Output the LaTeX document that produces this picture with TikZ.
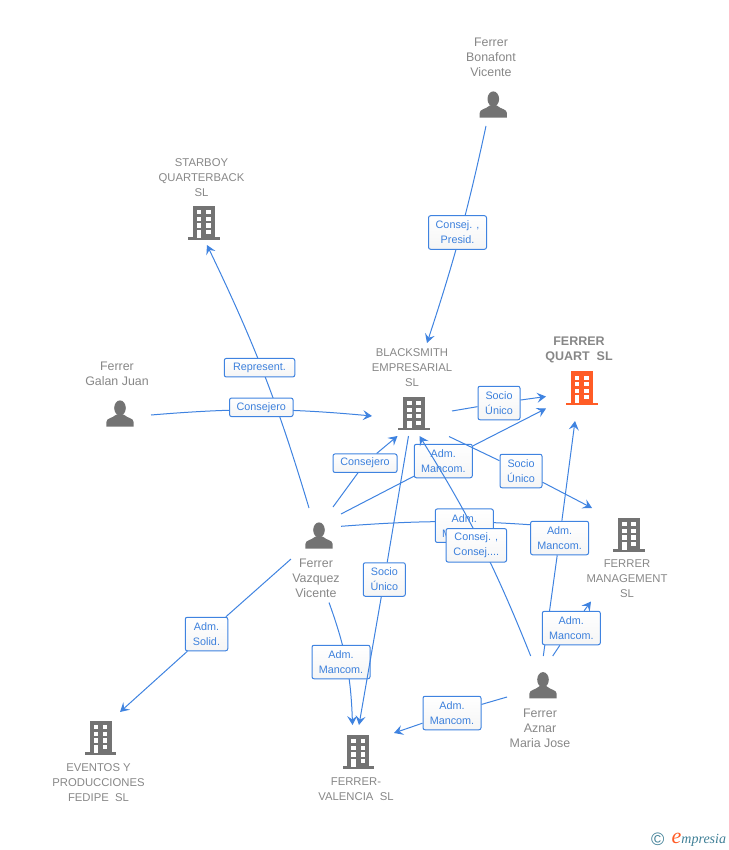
\documentclass[tikz,border=0pt]{standalone}
\usepackage{fontspec}
\setmainfont{Liberation Sans}
\newfontfamily\logofont{Liberation Serif}
\usetikzlibrary{arrows.meta}
\definecolor{edgeblue}{HTML}{3F83E0}
\definecolor{labelblue}{HTML}{3C80DC}
\definecolor{icongray}{HTML}{737373}
\definecolor{namegray}{HTML}{878787}
\definecolor{quartorange}{HTML}{FF5C26}
\definecolor{logoteal}{HTML}{3F7F96}
\tikzset{
	link/.style={edgeblue, line width=1pt},
	arrowlink/.style={link, -{Stealth[length=9pt, width=10pt, inset=3.5pt]}},
	linklabel/.style={draw=edgeblue, line width=1pt, rounded corners=2pt, top color=white, bottom color=black!4,
			text=labelblue, align=center, inner sep=0pt, minimum height=33.5pt,
			font=\fontsize{10.8}{15}\selectfont},
	shortlabel/.style={linklabel, minimum height=18.5pt},
	mancom/.style={linklabel, minimum width=58pt},
	socio/.style={linklabel, minimum width=42pt},
	firmname/.style={namegray, align=center, inner sep=0pt, font=\fontsize{11.3}{15}\selectfont},
	personname/.style={namegray, align=center, inner sep=0pt, font=\fontsize{12.4}{15}\selectfont},
	buildingicon/.pic={
			\fill[pic actions] (-11,0) rectangle (11,31.6);
			\fill[pic actions] (-15.8,31.4) rectangle (15.8,33.6);
			\foreach \row in {4.2,10.8,17.4}
			\foreach \col in {-7,2.2}
			\fill[white] (\col,\row) rectangle +(4.6,4.1);
			\fill[white] (-7,24) rectangle (-2.4,31.6);
			\fill[white] (2.2,24) rectangle (6.8,28);
		},
	personicon/.pic={
			\fill[pic actions] (0,8) ellipse [x radius=5.8, y radius=7.6];
			\fill[pic actions] (-13.6,26.7) -- (-13.6,22) .. controls (-13.6,18) and (-8,18.5) .. (-3.5,14.5)
			-- (3.5,14.5) .. controls (8,18.5) and (13.6,18) .. (13.6,22) -- (13.6,26.7) -- cycle;
		}
}
\begin{document}
\begin{tikzpicture}[x=1pt, y=-1pt]
	\useasboundingbox (0,0) rectangle (728,850);

	% firms
	\pic[fill=icongray] (starboy) at (203.7,206) {buildingicon};
	\pic[fill=icongray] (blacksmith) at (414,396.7) {buildingicon};
	\pic[fill=quartorange] (quart) at (581.7,371.3) {buildingicon};
	\pic[fill=icongray] (management) at (629,518) {buildingicon};
	\pic[fill=icongray] (eventos) at (100.5,721) {buildingicon};
	\pic[fill=icongray] (valencia) at (358.3,735) {buildingicon};
	\node[firmname] (starboyname) at (201.5,177.7) {STARBOY\\QUARTERBACK\\SL};
	\node[firmname] (blacksmithname) at (412,367.7) {BLACKSMITH\\EMPRESARIAL\\SL};
	\node[firmname, font=\fontsize{12.5}{15}\selectfont\bfseries] (quartname) at (579,350) {FERRER\\QUART\ \ SL};
	\node[firmname] (managementname) at (627,578.7) {FERRER\\MANAGEMENT\\SL};
	\node[firmname] (eventosname) at (98.5,782.7) {EVENTOS Y\\PRODUCCIONES\\FEDIPE\ \ SL};
	\node[firmname] (valencianame) at (356,789) {FERRER-\\VALENCIA\ \ SL};

	% people
	\pic[fill=icongray] (bonafont) at (493.3,91) {personicon};
	\pic[fill=icongray] (galan) at (120,400) {personicon};
	\pic[fill=icongray] (vazquez) at (319,522) {personicon};
	\pic[fill=icongray] (aznar) at (543,671.7) {personicon};
	\node[personname] (bonafontname) at (491,57) {Ferrer\\Bonafont\\Vicente};
	\node[personname] (galanname) at (117,373.5) {Ferrer\\Galan Juan};
	\node[personname] (vazquezname) at (316,578) {Ferrer\\Vazquez\\Vicente};
	\node[personname] (aznarname) at (540,728) {Ferrer\\Aznar\\Maria Jose};

	% free ends of the links
	\coordinate (bonafontout) at (486,126);
	\coordinate (galanout) at (151,415);
	\coordinate (vazquezup) at (309,508);
	\coordinate (vazquezconsej) at (333,507);
	\coordinate (vazquezquart) at (341,514);
	\coordinate (vazquezright) at (341,526.3);
	\coordinate (vazquezleft) at (291,559);
	\coordinate (vazquezdown) at (329,602.5);
	\coordinate (blacksmithright) at (452,411);
	\coordinate (blacksmithlow) at (449,436.5);
	\coordinate (blacksmithdown) at (408.5,436);
	\coordinate (aznarup) at (530.7,656);
	\coordinate (aznarquart) at (543.3,656);
	\coordinate (aznarmanag) at (552.7,656);
	\coordinate (aznarleft) at (507,697);
	\coordinate (starboyin) at (207,245);
	\coordinate (blacksmithtop) at (427,343);
	\coordinate (blacksmithleft) at (372,416);
	\coordinate (blacksmithcorner) at (397.5,436);
	\coordinate (blacksmithfoot) at (419.5,436);
	\coordinate (quartupper) at (546,396.5);
	\coordinate (quartlower) at (546,408.5);
	\coordinate (quartfoot) at (575,421);
	\coordinate (managementtop) at (592,508);
	\coordinate (managementhidden) at (560,527);
	\coordinate (managementlow) at (591,601.5);
	\coordinate (valencialeft) at (352.5,725);
	\coordinate (valenciaright) at (359,725);
	\coordinate (valenciaside) at (394,733);
	\coordinate (eventosin) at (120,712);

	% links with their boxes, later boxes cover earlier lines
	\draw[arrowlink] (bonafontout) to[bend left=3] (blacksmithtop);
	\node[mancom] (lblpresid) at (457.5,232.5) {Consej. ,\\Presid.};

	\draw[arrowlink] (vazquezup) to[bend right=4.5] (starboyin);
	\node[shortlabel, minimum width=70.5pt] (lblrepresent) at (259.5,367.7) {Represent.};

	\draw[arrowlink] (galanout) to[bend left=5] (blacksmithleft);
	\node[shortlabel, minimum width=63.5pt] (lblgalan) at (261.3,407.3) {Consejero};

	\node[shortlabel, minimum width=64pt] (lblconsejero) at (365,463.2) {Consejero};
	\draw[link] (vazquezconsej) -- (lblconsejero);
	\draw[arrowlink] (lblconsejero) -- (blacksmithcorner);

	\node[mancom] (lblquart) at (443.3,461) {Adm.\\Mancom.};
	\draw[link] (vazquezquart) -- (lblquart);
	\draw[arrowlink] (lblquart) -- (quartlower);

	\node[socio] (lblsocioquart) at (499,403) {Socio\\Único};
	\draw[link] (blacksmithright) -- (lblsocioquart);
	\draw[arrowlink] (lblsocioquart) -- (quartupper);

	\node[socio] (lblsociomanag) at (521,471) {Socio\\Único};
	\draw[link] (blacksmithlow) -- (lblsociomanag);
	\draw[arrowlink] (lblsociomanag) -- (managementtop);

	\draw[link] (vazquezright) to[bend left=4.5] (managementhidden);
	\node[mancom] (lblmanag) at (464.3,525.7) {Adm.\\Mancom.};

	\draw[arrowlink] (aznarup) to[bend right=5] (blacksmithfoot);
	\node[linklabel, minimum width=60.5pt] (lblconsej) at (476.3,545.3) {Consej. ,\\Consej....};

	\node[mancom] (lblaznarquart) at (559.6,538) {Adm.\\Mancom.};
	\draw[link] (aznarquart) -- (lblaznarquart);
	\draw[arrowlink] (lblaznarquart) -- (quartfoot);

	\node[mancom] (lblaznarmanag) at (571.3,628) {Adm.\\Mancom.};
	\draw[link] (aznarmanag) -- (lblaznarmanag);
	\draw[arrowlink] (lblaznarmanag) -- (managementlow);

	\draw[arrowlink] (vazquezdown) to[bend left=9] (valencialeft);
	\node[mancom] (lblvalencia) at (341,662) {Adm.\\Mancom.};

	\node[socio] (lblsociovalencia) at (384.3,579.5) {Socio\\Único};
	\draw[link] (blacksmithdown) -- (lblsociovalencia);
	\draw[arrowlink] (lblsociovalencia) -- (valenciaright);

	\node[mancom] (lblaznarvalencia) at (452,713) {Adm.\\Mancom.};
	\draw[link] (aznarleft) -- (lblaznarvalencia);
	\draw[arrowlink] (lblaznarvalencia) -- (valenciaside);

	\node[socio, minimum width=42.5pt] (lblsolid) at (206.5,634) {Adm.\\Solid.};
	\draw[link] (vazquezleft) -- (lblsolid);
	\draw[arrowlink] (lblsolid) -- (eventosin);

	% logo
	\node[inner sep=0pt, logoteal, font=\fontsize{18}{18}\selectfont] (logocopy) at (657.8,839.5) {©};
	\node[inner sep=0pt, anchor=base west, font=\logofont\itshape\fontsize{14}{14}\selectfont, text=logoteal] (logoword) at (671.5,843)
		{\textcolor{quartorange}{\fontsize{22}{22}\selectfont e}mpresia};
\end{tikzpicture}
\end{document}
